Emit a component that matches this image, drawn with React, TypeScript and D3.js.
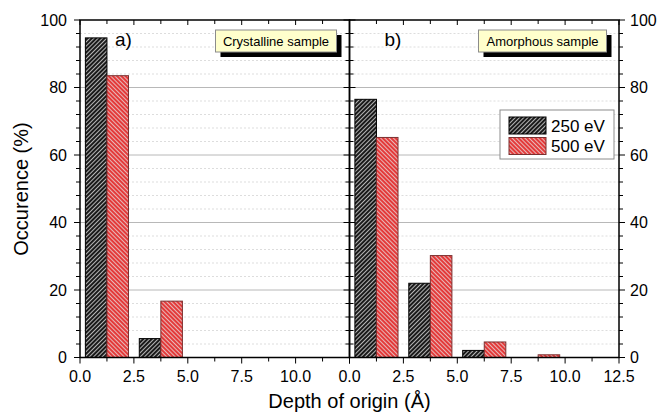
import React from 'react';
import * as d3 from 'd3';

// bins (start of each 2.5 Å depth bin)
const bins = [0, 2.5, 5, 7.5];
const crystalline250 = [94.7, 5.6, 0, 0];
const crystalline500 = [83.5, 16.7, 0, 0];
const amorphous250 = [76.5, 22.0, 2.1, 0];
const amorphous500 = [65.2, 30.2, 4.6, 0.8];

const xMajorTicks = [0, 2.5, 5, 7.5, 10, 12.5];
const xMinorTicks = d3.range(0, 12.5001, 1.25);
const yMajorTicks = [0, 20, 40, 60, 80, 100];
const yMinorTicks = d3.range(0, 100.001, 4);

const FONT = '"Liberation Sans", Arial, sans-serif';

const y = d3.scaleLinear().domain([0, 100]).range([357.5, 20]);

type PanelProps = {
  x: d3.ScaleLinear<number, number>;
  s250: number[];
  s500: number[];
  label: string;
  boxText: string;
  boxX: number;
  boxW: number;
  lastLabel: boolean;
};

const Panel = ({ x, s250, s500, label, boxText, boxX, boxW, lastLabel }: PanelProps) => {
  const [x0, x1] = x.range();
  const bottom = y(0);
  const top = y(100);
  return (
    <g>
      {/* minor grid */}
      {yMinorTicks
        .filter((t) => t % 20 !== 0)
        .map((t) => (
          <line key={'gm' + t} x1={x0} x2={x1} y1={y(t)} y2={y(t)} stroke="#d4d4d4" strokeWidth={0.8} strokeDasharray="2,2" />
        ))}
      {/* major grid */}
      {yMajorTicks
        .filter((t) => t > 0 && t < 100)
        .map((t) => (
          <line key={'gM' + t} x1={x0} x2={x1} y1={y(t)} y2={y(t)} stroke="#b8b8b8" strokeWidth={1} />
        ))}

      {/* bars */}
      {bins.map((b, i) => {
        const c = b + 1.25;
        return (
          <g key={'bar' + i}>
            {s250[i] > 0 && (
              <rect x={x(c - 1)} y={y(s250[i])} width={x(c) - x(c - 1)} height={bottom - y(s250[i])} fill="url(#hatchBlack)" stroke="#000" strokeWidth={1} />
            )}
            {s500[i] > 0 && (
              <rect x={x(c)} y={y(s500[i])} width={x(c + 1) - x(c)} height={bottom - y(s500[i])} fill="url(#hatchRed)" stroke="#7a3030" strokeWidth={1} />
            )}
          </g>
        );
      })}

      {/* top ticks (inward) */}
      {xMinorTicks.map((t) => (
        <line key={'tt' + t} x1={x(t)} x2={x(t)} y1={top} y2={top + (xMajorTicks.includes(t) ? 5 : 4)} stroke="#000" strokeWidth={1} />
      ))}
      {/* bottom ticks (outward) */}
      {xMinorTicks.map((t) => (
        <line key={'bt' + t} x1={x(t)} x2={x(t)} y1={bottom} y2={bottom + (xMajorTicks.includes(t) ? 6 : 4)} stroke="#000" strokeWidth={1} />
      ))}
      {/* x tick labels */}
      {xMajorTicks
        .filter((t) => lastLabel || t < 12.5)
        .map((t) => (
          <text key={'xl' + t} x={x(t)} y={382} textAnchor="middle" fontSize={16} fontFamily={FONT} fill="#000">
            {t.toFixed(1)}
          </text>
        ))}

      {/* frame */}
      <rect x={x0} y={top} width={x1 - x0} height={bottom - top} fill="none" stroke="#000" strokeWidth={1.5} />

      {/* panel label */}
      <text x={x0 + 35} y={46} fontSize={19} fontFamily={FONT} fill="#000">
        {label}
      </text>

      {/* sample box with shadow */}
      <rect x={boxX + 5} y={35} width={boxW} height={22} fill="#000" />
      <rect x={boxX} y={30} width={boxW} height={22} fill="#ffffcc" stroke="#8c8c8c" strokeWidth={1} />
      <text x={boxX + boxW / 2} y={45.5} textAnchor="middle" fontSize={13} fontFamily={FONT} fill="#000">
        {boxText}
      </text>
    </g>
  );
};

const App = () => {
  const xLeft = d3.scaleLinear().domain([0, 12.5]).range([80, 349.5]);
  const xRight = d3.scaleLinear().domain([0, 12.5]).range([349.5, 619]);

  return (
    <svg width={661} height={417} style={{ position: 'absolute', left: 0, top: 0, background: '#fff' }}>
      <defs>
        <pattern id="hatchBlack" patternUnits="userSpaceOnUse" width={3} height={3} patternTransform="rotate(45)">
          <rect width={3} height={3} fill="#1a1a1a" />
          <line x1={0.5} y1={0} x2={0.5} y2={3} stroke="#b4b4b4" strokeWidth={1} />
        </pattern>
        <pattern id="hatchRed" patternUnits="userSpaceOnUse" width={3} height={3} patternTransform="rotate(-45)">
          <rect width={3} height={3} fill="#e43a3a" />
          <line x1={0.5} y1={0} x2={0.5} y2={3} stroke="#e6b8b8" strokeWidth={1} />
        </pattern>
      </defs>
      <rect width={661} height={417} fill="#fff" />

      <Panel x={xLeft} s250={crystalline250} s500={crystalline500} label="a)" boxText="Crystalline sample" boxX={215.5} boxW={121} lastLabel={false} />
      <Panel x={xRight} s250={amorphous250} s500={amorphous500} label="b)" boxText="Amorphous sample" boxX={478.5} boxW={128} lastLabel={true} />

      {/* left y axis ticks (outward) */}
      {yMinorTicks.map((t) => (
        <line key={'ly' + t} x1={80} x2={80 - (t % 20 === 0 ? 6 : 4)} y1={y(t)} y2={y(t)} stroke="#000" strokeWidth={1} />
      ))}
      {/* middle axis ticks (both sides) */}
      {yMinorTicks.map((t) => {
        const l = t % 20 === 0 ? 6 : 4;
        return <line key={'my' + t} x1={349.5 - l} x2={349.5 + l} y1={y(t)} y2={y(t)} stroke="#000" strokeWidth={1} />;
      })}
      {/* right y axis ticks (outward) */}
      {yMinorTicks.map((t) => (
        <line key={'ry' + t} x1={619} x2={619 + (t % 20 === 0 ? 6 : 4)} y1={y(t)} y2={y(t)} stroke="#000" strokeWidth={1} />
      ))}
      {yMajorTicks.map((t) => (
        <text key={'lyl' + t} x={67} y={y(t) + 5.5} textAnchor="end" fontSize={16} fontFamily={FONT} fill="#000">
          {t}
        </text>
      ))}
      {yMajorTicks.map((t) => (
        <text key={'ryl' + t} x={630} y={y(t) + 5.5} textAnchor="start" fontSize={16} fontFamily={FONT} fill="#000">
          {t}
        </text>
      ))}

      {/* axis titles */}
      <text transform="translate(28,189) rotate(-90)" textAnchor="middle" fontSize={20} fontFamily={FONT} fill="#000">
        Occurence (%)
      </text>
      <text x={349.5} y={408} textAnchor="middle" fontSize={20} fontFamily={FONT} fill="#000">
        Depth of origin (Å)
      </text>

      {/* legend */}
      <rect x={500} y={110} width={114} height={49} fill="#fff" stroke="#8c8c8c" strokeWidth={1} />
      <rect x={509} y={117} width={37} height={17} fill="url(#hatchBlack)" stroke="#000" strokeWidth={1} />
      <rect x={509} y={137.5} width={37} height={17} fill="url(#hatchRed)" stroke="#7a3030" strokeWidth={1} />
      <text x={551} y={131.5} fontSize={17} fontFamily={FONT} fill="#000">
        250 eV
      </text>
      <text x={551} y={152} fontSize={17} fontFamily={FONT} fill="#000">
        500 eV
      </text>
    </svg>
  );
};

export default App;
